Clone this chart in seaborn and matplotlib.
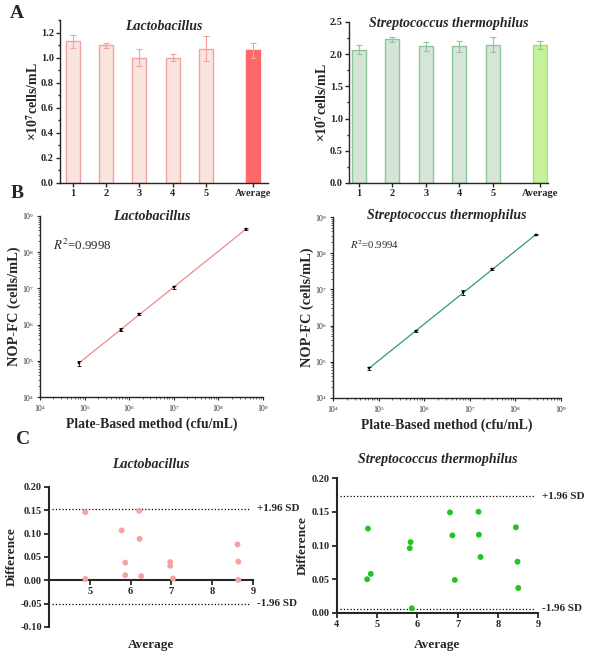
import numpy as np
import pandas as pd
import matplotlib
matplotlib.use("Agg")
import matplotlib.pyplot as plt
import matplotlib.ticker as mticker
import seaborn as sns

# ---- data ----
bar_labels = ["1", "2", "3", "4", "5", "Average"]
bar_pos = [1, 2, 3, 4, 5, 6.4]
lac_counts = [1.13, 1.10, 1.00, 1.00, 1.07, 1.06]
lac_sd = [0.05, 0.02, 0.065, 0.03, 0.10, 0.06]
str_counts = [2.07, 2.23, 2.12, 2.12, 2.15, 2.14]
str_sd = [0.07, 0.04, 0.07, 0.08, 0.11, 0.06]

lac_plate = [7.5e4, 6.5e5, 1.67e6, 1.03e7, 4.2e8]
lac_nop = [8.5e4, 7.3e5, 2.0e6, 1.07e7, 4.4e8]
lac_nop_err = [1.2e4, 6e4, 1.2e5, 1.2e6, 2e7]
str_plate = [6.3e4, 6.7e5, 7.0e6, 3.1e7, 2.9e8]
str_nop = [6.7e4, 7.1e5, 8.3e6, 3.7e7, 3.2e8]
str_nop_err = [7e3, 5e4, 1.2e6, 2.5e6, 1e7]
r2_lac = "0.9998"
r2_str = "0.9994"

lac_avg = [4.89, 4.89, 5.78, 5.87, 5.87, 6.21, 6.22, 6.26, 6.97, 6.97, 7.04, 8.62, 8.64, 8.64]
lac_diff = [0.146, 0.003, 0.107, 0.038, 0.011, 0.149, 0.089, 0.009, 0.039, 0.031, 0.004, 0.077, 0.040, 0.001]
lac_sd_lines = [0.153, -0.05]
str_avg = [4.77, 4.75, 4.84, 5.83, 5.81, 5.86, 6.81, 6.87, 6.93, 7.52, 7.53, 7.57, 8.45, 8.49, 8.51]
str_diff = [0.125, 0.050, 0.058, 0.105, 0.096, 0.007, 0.149, 0.115, 0.049, 0.150, 0.116, 0.083, 0.127, 0.076, 0.037]
str_sd_lines = [0.173, 0.006]

sns.set_theme(style="ticks")
plt.rcParams["font.family"] = ["Liberation Serif", "DejaVu Serif"]
plt.rcParams["mathtext.fontset"] = "stix"
plt.rcParams["axes.linewidth"] = 1.0
plt.rcParams["xtick.major.width"] = 1.0
plt.rcParams["ytick.major.width"] = 1.0

W, H = 590, 657
fig = plt.figure(figsize=(W / 100, H / 100), dpi=100)


def rect(x0, y0, x1, y1):
    return [x0 / W, 1 - y1 / H, (x1 - x0) / W, (y1 - y0) / H]


def fig_title(box, y, text):
    fig.text((box[0] + box[2]) / 2 / W, 1 - y / H, text, ha="center", va="center",
             fontsize=10, fontweight="bold", fontstyle="italic")


def bar_panel(box, vals, sds, face, edge, avg_face, avg_edge, ylim, yticks, xlim, title, title_y):
    ax = fig.add_axes(rect(*box))
    df = pd.DataFrame({"pos": bar_pos, "val": vals})
    sns.barplot(data=df, x="pos", y="val", native_scale=True, width=0.42,
                color=face, edgecolor=edge, linewidth=1.0, errorbar=None, ax=ax)
    for i, p in enumerate(ax.patches):
        if bar_labels[i] == "Average":
            p.set_facecolor(avg_face)
            p.set_edgecolor(avg_edge)
    ax.errorbar(bar_pos, vals, yerr=sds, fmt="none", ecolor=edge, elinewidth=0.8,
                capsize=2, capthick=0.8)
    ax.set_xlim(*xlim)
    ax.set_ylim(*ylim)
    ax.set_xticks(bar_pos)
    ax.set_xticklabels(bar_labels, fontsize=7.5, fontweight="bold")
    ax.set_yticks(yticks)
    ax.set_yticklabels([f"{t:.1f}" for t in yticks], fontsize=7.5, fontweight="bold")
    ax.yaxis.set_minor_locator(mticker.AutoMinorLocator(2))
    ax.tick_params(which="major", length=3, pad=1.5)
    ax.tick_params(which="minor", length=1.5)
    ax.set_xlabel("")
    ax.set_ylabel(r"×10$^\mathbf{7}$cells/mL", fontsize=10, fontweight="bold", labelpad=0)
    sns.despine(ax=ax)
    fig_title(box, title_y, title)
    return ax


bar_panel((60, 20, 268, 183), lac_counts, lac_sd, "#fde3da", "#f2a2a2", "#ff6868", "#ff6868",
          (0, 1.3), np.arange(0, 1.21, 0.2), (0.62, 6.86), "Lactobacillus", 27)
bar_panel((349, 22, 548, 183), str_counts, str_sd, "#d3e8d5", "#8dc69b", "#c6f29b", "#a6dd7c",
          (0, 2.5), np.arange(0, 2.51, 0.5), (0.71, 6.64), "Streptococcus thermophilus", 23)


def log_panel(box, xs, ys, yerr, line_color, title, title_y, r2, r2_xy, r2_size):
    ax = fig.add_axes(rect(*box))
    ax.set_xscale("log")
    ax.set_yscale("log")
    lx, ly = np.log10(xs), np.log10(ys)
    k, b = np.polyfit(lx, ly, 1)
    fx = np.array([min(xs), max(xs)])
    ax.plot(fx, 10 ** (k * np.log10(fx) + b), color=line_color, lw=0.9, zorder=2)
    ax.errorbar(xs, ys, yerr=yerr, fmt="none", ecolor="black", elinewidth=0.6,
                capsize=1.5, capthick=0.6, zorder=3)
    sns.scatterplot(x=xs, y=ys, marker="s", s=4, color="black", edgecolor="black",
                    linewidth=0.3, ax=ax, zorder=4)
    ax.set_xlim(1e4, 1e9)
    ax.set_ylim(1e4, 1e9)
    ax.xaxis.set_major_locator(mticker.LogLocator(base=10, numticks=10))
    ax.yaxis.set_major_locator(mticker.LogLocator(base=10, numticks=10))
    ax.xaxis.set_minor_locator(mticker.LogLocator(base=10, subs=np.arange(2, 10), numticks=20))
    ax.yaxis.set_minor_locator(mticker.LogLocator(base=10, subs=np.arange(2, 10), numticks=20))
    ax.yaxis.set_minor_formatter(mticker.NullFormatter())
    ax.xaxis.set_minor_formatter(mticker.NullFormatter())
    ax.tick_params(which="major", labelsize=5.5, length=2.5, width=0.8, pad=1.5)
    ax.tick_params(which="minor", length=1.3, width=0.5)
    ax.set_xlabel("Plate-Based method (cfu/mL)", fontsize=9.8, fontweight="bold", labelpad=3)
    ax.set_ylabel("NOP-FC (cells/mL)", fontsize=10.4, fontweight="bold", labelpad=1)
    sns.despine(ax=ax)
    fig_title(box, title_y, title)
    ax.text(r2_xy[0], r2_xy[1], r"$R^2$=" + r2, transform=ax.transAxes, fontsize=r2_size,
            ha="left", va="center")
    return ax


log_panel((40, 216, 263, 397), lac_plate, lac_nop, lac_nop_err, "#f08a8a",
          "Lactobacillus", 217, r2_lac, (0.06, 0.84), 9.3)
log_panel((333, 217, 561, 398), str_plate, str_nop, str_nop_err, "#2a9c76",
          "Streptococcus thermophilus", 216, r2_str, (0.075, 0.85), 7.7)


def ba_panel(box, xs, ys, color, sd_lines, ylim, yticks, xticks, title, title_y, avg_y):
    ax = fig.add_axes(rect(*box))
    sns.scatterplot(x=xs, y=ys, color=color, s=18, edgecolor="none", ax=ax, zorder=3)
    ax.spines["bottom"].set_position(("data", 0))
    ax.set_xlim(4, 9)
    ax.set_ylim(*ylim)
    for v, lab in zip(sd_lines, ["+1.96 SD", "-1.96 SD"]):
        ax.axhline(v, xmin=0.015, xmax=0.985, color="black", ls=":", lw=0.9)
        ax.text(1.02, (v - ylim[0]) / (ylim[1] - ylim[0]), lab, transform=ax.transAxes,
                ha="left", va="center", fontsize=8, fontweight="bold")
    ax.set_xticks(xticks)
    ax.set_xticklabels([str(t) for t in xticks], fontsize=7.5, fontweight="bold")
    ax.set_yticks(yticks)
    ax.set_yticklabels([f"{t:.2f}" for t in yticks], fontsize=7.5, fontweight="bold")
    for s in ("left", "bottom"):
        ax.spines[s].set_linewidth(1.5)
    ax.tick_params(length=3.5, width=1.3, pad=1.5)
    sns.despine(ax=ax)
    fig_title(box, title_y, title)
    fig.text((box[0] + box[2]) / 2 / W, 1 - avg_y / H, "Average", ha="center", va="center",
             fontsize=9.5, fontweight="bold")
    ax.set_ylabel("Difference", fontsize=9.5, fontweight="bold", labelpad=2)
    return ax


ba_panel((49, 487, 253, 627), lac_avg, lac_diff, "#f4a3a3", lac_sd_lines,
         (-0.10, 0.20), np.round(np.arange(-0.10, 0.201, 0.05), 2), [5, 6, 7, 8, 9],
         "Lactobacillus", 465, 645)
ba_panel((337, 478, 538, 613), str_avg, str_diff, "#22c322", str_sd_lines,
         (0.0, 0.20), np.round(np.arange(0.0, 0.201, 0.05), 2), [4, 5, 6, 7, 8, 9],
         "Streptococcus thermophilus", 460, 645)

for lab, x, y in [("A", 17, 14), ("B", 17, 194), ("C", 23, 440)]:
    fig.text(x / W, 1 - y / H, lab, fontsize=14, fontweight="bold", ha="center", va="center")

fig.savefig("out.png", dpi=100, facecolor="white")
